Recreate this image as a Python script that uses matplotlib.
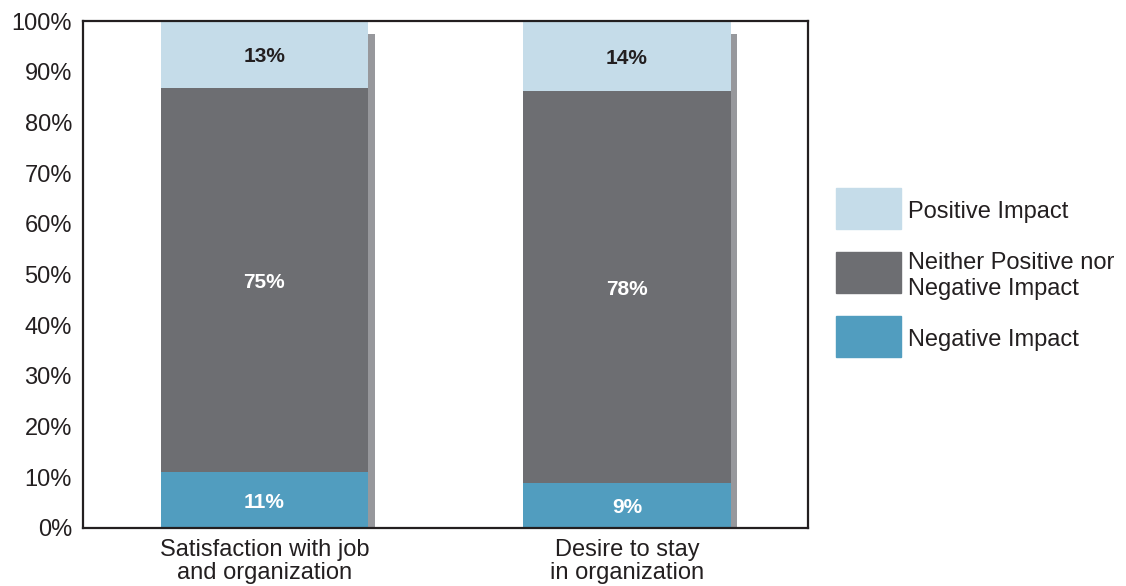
import numpy as np
import matplotlib
matplotlib.use('Agg')
import matplotlib.pyplot as plt
from matplotlib.patches import Rectangle

plt.rcParams['font.family'] = ['Liberation Sans', 'DejaVu Sans']

# data
categories = ['Satisfaction with job\nand organization', 'Desire to stay\nin organization']
series = ['Negative Impact', 'Neither Positive nor\nNegative Impact', 'Positive Impact']
negative = [11, 9]
neither = [75, 78]
positive = [13, 14]
y_ticks = [0, 10, 20, 30, 40, 50, 60, 70, 80, 90, 100]

colors = ['#519dbf', '#6d6e72', '#c5dce9']
label_colors = ['white', 'white', '#231f20']
dark = '#231f20'
shadow_color = '#97989c'

values = np.array([negative, neither, positive], dtype=float)
shares = values / values.sum(axis=0) * 100  # 100% stacked

fig = plt.figure(figsize=(11.26, 5.86), dpi=100)
ax = fig.add_axes([0.0737, 0.099, 0.644, 0.865])

x = np.arange(len(categories))
width = 0.572

# drop shadow behind each bar
ax.bar(x + 0.019, shares.sum(axis=0) - 2.6, width, color=shadow_color, zorder=1)

bottom = np.zeros(len(categories))
for i in range(len(series)):
    ax.bar(x, shares[i], width, bottom=bottom, color=colors[i], zorder=2)
    for j in range(len(categories)):
        mid = bottom[j] + shares[i][j] / 2
        ax.text(x[j], min(mid, (bottom[j] + 100) / 2) - 0.5, '%d%%' % values[i][j],
                ha='center', va='center', fontsize=15, fontweight='bold',
                color=label_colors[i], zorder=3)
    bottom += shares[i]

ax.set_xlim(-0.5, 1.5)
ax.set_ylim(0, 100)
ax.set_xticks(x)
ax.set_xticklabels(categories, fontsize=17, color=dark, linespacing=1.08)
ax.set_yticks(y_ticks)
ax.set_yticklabels(['%d%%' % t for t in y_ticks], fontsize=17, color=dark)
ax.tick_params(axis='x', length=0, pad=8)
ax.tick_params(axis='y', length=0, pad=8)
for s in ax.spines.values():
    s.set_color(dark)
    s.set_linewidth(1.6)
    s.set_zorder(4)

# legend drawn on the figure, top to bottom
leg_tops = [188, 252, 316]
for k, i in enumerate(range(len(series) - 1, -1, -1)):
    top = 1 - leg_tops[k] / 586
    h = 41 / 586
    fig.add_artist(Rectangle((836 / 1126, top - h), 65 / 1126, h,
                             transform=fig.transFigure, color=colors[i]))
    fig.text(908 / 1126, top - h / 2 - 0.006, series[i], fontsize=17, color=dark,
             va='center', ha='left', linespacing=1.2)

fig.savefig('out.png', dpi=100)
